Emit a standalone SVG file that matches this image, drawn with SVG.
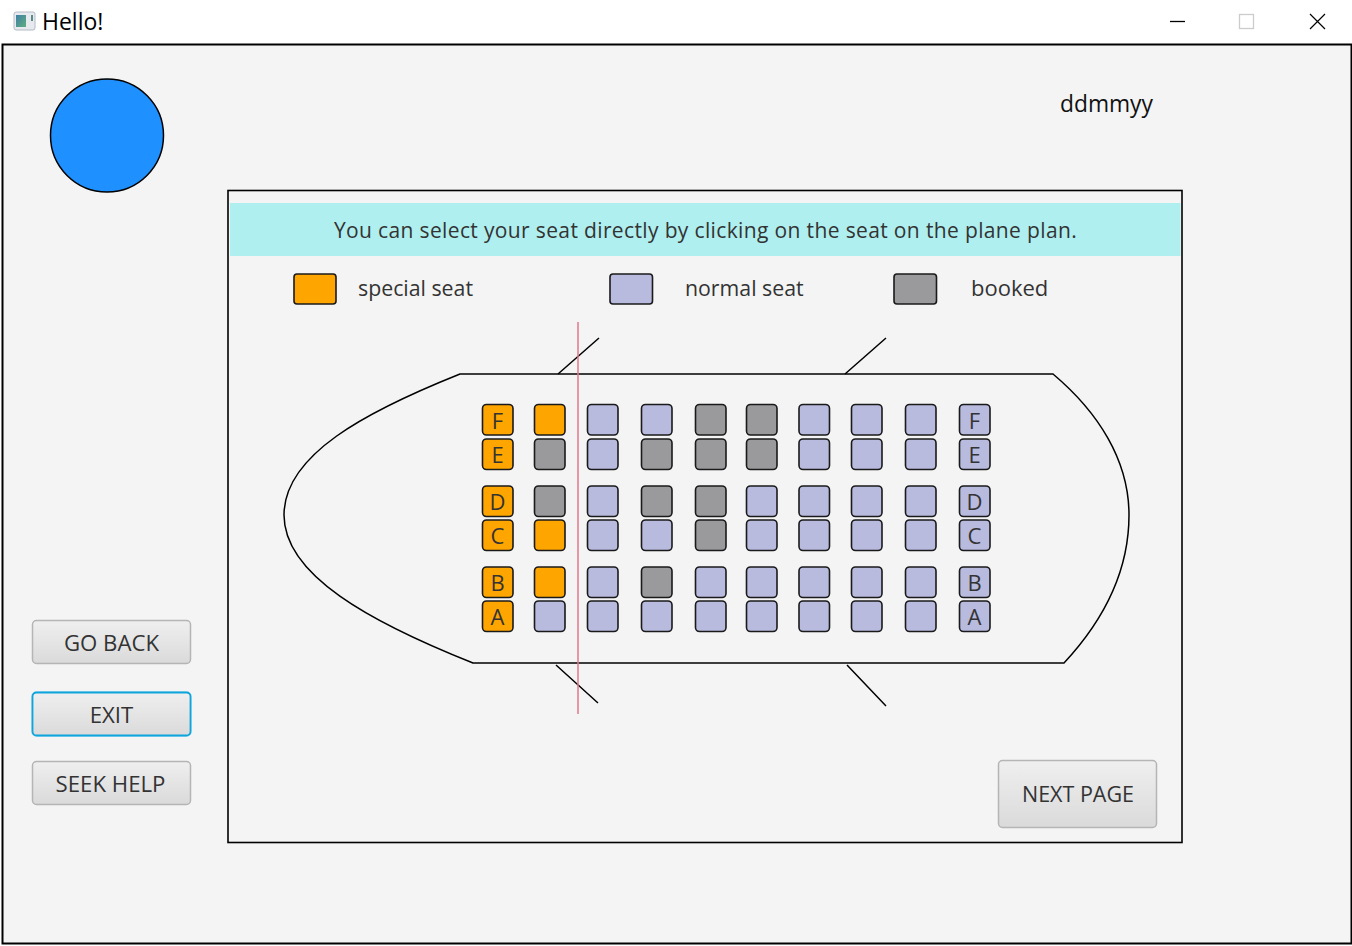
<svg xmlns="http://www.w3.org/2000/svg" width="1352" height="946" viewBox="0 0 1352 946">
<defs>
<linearGradient id="btn" x1="0" y1="0" x2="0" y2="1"><stop offset="0" stop-color="#efefef"/><stop offset="1" stop-color="#dadada"/></linearGradient>
<linearGradient id="ico" x1="0" y1="0" x2="1" y2="1"><stop offset="0" stop-color="#3f7fa8"/><stop offset="1" stop-color="#5fae7c"/></linearGradient>
</defs>
<style>
text{font-family:"Open Sans","Noto Sans","Liberation Sans",sans-serif;fill:#333}
.s{stroke:#1a1a1a;stroke-width:1.6}
.o{fill:#ffa500}.n{fill:#b8bade}.g{fill:#9a9a9c}
.l{font-size:22px;text-anchor:middle}
.t{font-size:21.300px}
.b{fill:url(#btn);stroke:#b5b5b5;stroke-width:1.500}
.bt{font-size:22.200px;text-anchor:middle}
.k{stroke:#000;stroke-width:1.500;fill:none}
</style>
<rect width="1352" height="946" fill="#fff"/>
<g id="titlebar">
<rect x="14" y="12" width="21" height="18" rx="2" fill="#e6e9ee" stroke="#b4bcc8"/>
<rect x="16" y="15" width="10" height="12" fill="url(#ico)"/>
<rect x="31" y="15" width="2" height="6" fill="#5a8a8a"/>
<text x="42" y="30" style="font-size:23px;fill:#000">Hello!</text>
<path d="M1170 21.500H1185" stroke="#000" stroke-width="1.300"/>
<rect x="1239.500" y="14.500" width="14" height="14" fill="none" stroke="#ccc" stroke-width="1.300"/>
<path d="M1310 14L1325 29M1325 14L1310 29" stroke="#000" stroke-width="1.200"/>
</g>
<g id="window">
<rect x="2.500" y="44.500" width="1349" height="899" fill="#f4f4f4" stroke="#000" stroke-width="2"/>
</g>
<g id="avatar"><circle cx="107" cy="135.500" r="56.500" fill="#1e90ff" stroke="#000" stroke-width="1.500"/></g>
<g id="user"><text x="1060" y="112" style="font-size:22.800px;fill:#111">ddmmyy</text></g>
<g id="panel">
<rect x="228" y="190.500" width="954" height="652" fill="#f4f4f4" stroke="#000" stroke-width="1.600"/>
<rect x="230" y="203" width="950.500" height="53" fill="#afefef"/>
<text x="705.500" y="238" text-anchor="middle" style="font-size:21px;letter-spacing:.36px">You can select your seat directly by clicking on the seat on the plane plan.</text>
</g>
<g id="legend">
<rect class="s o" x="294" y="274" width="42" height="30" rx="3"/><text class="t" x="358" y="296">special seat</text>
<rect class="s n" x="610" y="274" width="42.500" height="30" rx="3"/><text class="t" x="685" y="296">normal seat</text>
<rect class="s g" x="894" y="274" width="42.500" height="30" rx="3"/><text class="t" x="971" y="296" style="font-size:22px">booked</text>
</g>
<g id="connectors">
<path class="k" d="M460 374H1053C1098 412 1129 460 1129 515C1129 570 1104 620 1064 663H473C370 622 284 575 284 515C284 455 365 412 460 374Z"/>
<path class="k" d="M558 374L599 338M845 374L886 338M556 665L598 703M847 665L886 706"/>
<path d="M578 322V714" stroke="#e0788c" stroke-width="1.500"/>
</g>
<g id="seats">
<g id="row-F"><rect class="s o" x="482.500" y="404.500" width="30.500" height="30.500" rx="4"/><rect class="s o" x="534.500" y="404.500" width="30.500" height="30.500" rx="4"/><rect class="s n" x="587.500" y="404.500" width="30.500" height="30.500" rx="4"/><rect class="s n" x="641.500" y="404.500" width="30.500" height="30.500" rx="4"/><rect class="s g" x="695.500" y="404.500" width="30.500" height="30.500" rx="4"/><rect class="s g" x="746.500" y="404.500" width="30.500" height="30.500" rx="4"/><rect class="s n" x="799" y="404.500" width="30.500" height="30.500" rx="4"/><rect class="s n" x="851.500" y="404.500" width="30.500" height="30.500" rx="4"/><rect class="s n" x="905.500" y="404.500" width="30.500" height="30.500" rx="4"/><rect class="s n" x="959.500" y="404.500" width="30.500" height="30.500" rx="4"/><text class="l" x="497.500" y="428.500">F</text><text class="l" x="974.500" y="428.500">F</text></g>
<g id="row-E"><rect class="s o" x="482.500" y="439" width="30.500" height="30.500" rx="4"/><rect class="s g" x="534.500" y="439" width="30.500" height="30.500" rx="4"/><rect class="s n" x="587.500" y="439" width="30.500" height="30.500" rx="4"/><rect class="s g" x="641.500" y="439" width="30.500" height="30.500" rx="4"/><rect class="s g" x="695.500" y="439" width="30.500" height="30.500" rx="4"/><rect class="s g" x="746.500" y="439" width="30.500" height="30.500" rx="4"/><rect class="s n" x="799" y="439" width="30.500" height="30.500" rx="4"/><rect class="s n" x="851.500" y="439" width="30.500" height="30.500" rx="4"/><rect class="s n" x="905.500" y="439" width="30.500" height="30.500" rx="4"/><rect class="s n" x="959.500" y="439" width="30.500" height="30.500" rx="4"/><text class="l" x="497.500" y="462.500">E</text><text class="l" x="974.500" y="462.500">E</text></g>
<g id="row-D"><rect class="s o" x="482.500" y="486" width="30.500" height="30.500" rx="4"/><rect class="s g" x="534.500" y="486" width="30.500" height="30.500" rx="4"/><rect class="s n" x="587.500" y="486" width="30.500" height="30.500" rx="4"/><rect class="s g" x="641.500" y="486" width="30.500" height="30.500" rx="4"/><rect class="s g" x="695.500" y="486" width="30.500" height="30.500" rx="4"/><rect class="s n" x="746.500" y="486" width="30.500" height="30.500" rx="4"/><rect class="s n" x="799" y="486" width="30.500" height="30.500" rx="4"/><rect class="s n" x="851.500" y="486" width="30.500" height="30.500" rx="4"/><rect class="s n" x="905.500" y="486" width="30.500" height="30.500" rx="4"/><rect class="s n" x="959.500" y="486" width="30.500" height="30.500" rx="4"/><text class="l" x="497.500" y="509.500">D</text><text class="l" x="974.500" y="509.500">D</text></g>
<g id="row-C"><rect class="s o" x="482.500" y="520" width="30.500" height="30.500" rx="4"/><rect class="s o" x="534.500" y="520" width="30.500" height="30.500" rx="4"/><rect class="s n" x="587.500" y="520" width="30.500" height="30.500" rx="4"/><rect class="s n" x="641.500" y="520" width="30.500" height="30.500" rx="4"/><rect class="s g" x="695.500" y="520" width="30.500" height="30.500" rx="4"/><rect class="s n" x="746.500" y="520" width="30.500" height="30.500" rx="4"/><rect class="s n" x="799" y="520" width="30.500" height="30.500" rx="4"/><rect class="s n" x="851.500" y="520" width="30.500" height="30.500" rx="4"/><rect class="s n" x="905.500" y="520" width="30.500" height="30.500" rx="4"/><rect class="s n" x="959.500" y="520" width="30.500" height="30.500" rx="4"/><text class="l" x="497.500" y="543.500">C</text><text class="l" x="974.500" y="543.500">C</text></g>
<g id="row-B"><rect class="s o" x="482.500" y="567" width="30.500" height="30.500" rx="4"/><rect class="s o" x="534.500" y="567" width="30.500" height="30.500" rx="4"/><rect class="s n" x="587.500" y="567" width="30.500" height="30.500" rx="4"/><rect class="s g" x="641.500" y="567" width="30.500" height="30.500" rx="4"/><rect class="s n" x="695.500" y="567" width="30.500" height="30.500" rx="4"/><rect class="s n" x="746.500" y="567" width="30.500" height="30.500" rx="4"/><rect class="s n" x="799" y="567" width="30.500" height="30.500" rx="4"/><rect class="s n" x="851.500" y="567" width="30.500" height="30.500" rx="4"/><rect class="s n" x="905.500" y="567" width="30.500" height="30.500" rx="4"/><rect class="s n" x="959.500" y="567" width="30.500" height="30.500" rx="4"/><text class="l" x="497.500" y="590.500">B</text><text class="l" x="974.500" y="590.500">B</text></g>
<g id="row-A"><rect class="s o" x="482.500" y="601" width="30.500" height="30.500" rx="4"/><rect class="s n" x="534.500" y="601" width="30.500" height="30.500" rx="4"/><rect class="s n" x="587.500" y="601" width="30.500" height="30.500" rx="4"/><rect class="s n" x="641.500" y="601" width="30.500" height="30.500" rx="4"/><rect class="s n" x="695.500" y="601" width="30.500" height="30.500" rx="4"/><rect class="s n" x="746.500" y="601" width="30.500" height="30.500" rx="4"/><rect class="s n" x="799" y="601" width="30.500" height="30.500" rx="4"/><rect class="s n" x="851.500" y="601" width="30.500" height="30.500" rx="4"/><rect class="s n" x="905.500" y="601" width="30.500" height="30.500" rx="4"/><rect class="s n" x="959.500" y="601" width="30.500" height="30.500" rx="4"/><text class="l" x="497.500" y="624.500">A</text><text class="l" x="974.500" y="624.500">A</text></g>
</g>
<g id="btn-back"><rect class="b" x="32.500" y="620.500" width="158" height="43" rx="4"/><text class="bt" x="111.500" y="651">GO BACK</text></g>
<g id="btn-exit"><rect x="31.500" y="691.500" width="160" height="45" rx="5" fill="none" stroke="#bfe4f3" stroke-width="1"/><rect class="b" x="32.500" y="692.500" width="158" height="43" rx="4" style="stroke:#0fa5dc;stroke-width:1.800"/><text class="bt" x="111.500" y="723">EXIT</text></g>
<g id="btn-help"><rect class="b" x="32.500" y="761.500" width="158" height="43" rx="4"/><text class="bt" x="110.500" y="792">SEEK HELP</text></g>
<g id="btn-next"><rect class="b" x="998.500" y="760.500" width="158" height="67" rx="4"/><text class="bt" x="1078" y="802" style="font-size:21.500px">NEXT PAGE</text></g>
</svg>
